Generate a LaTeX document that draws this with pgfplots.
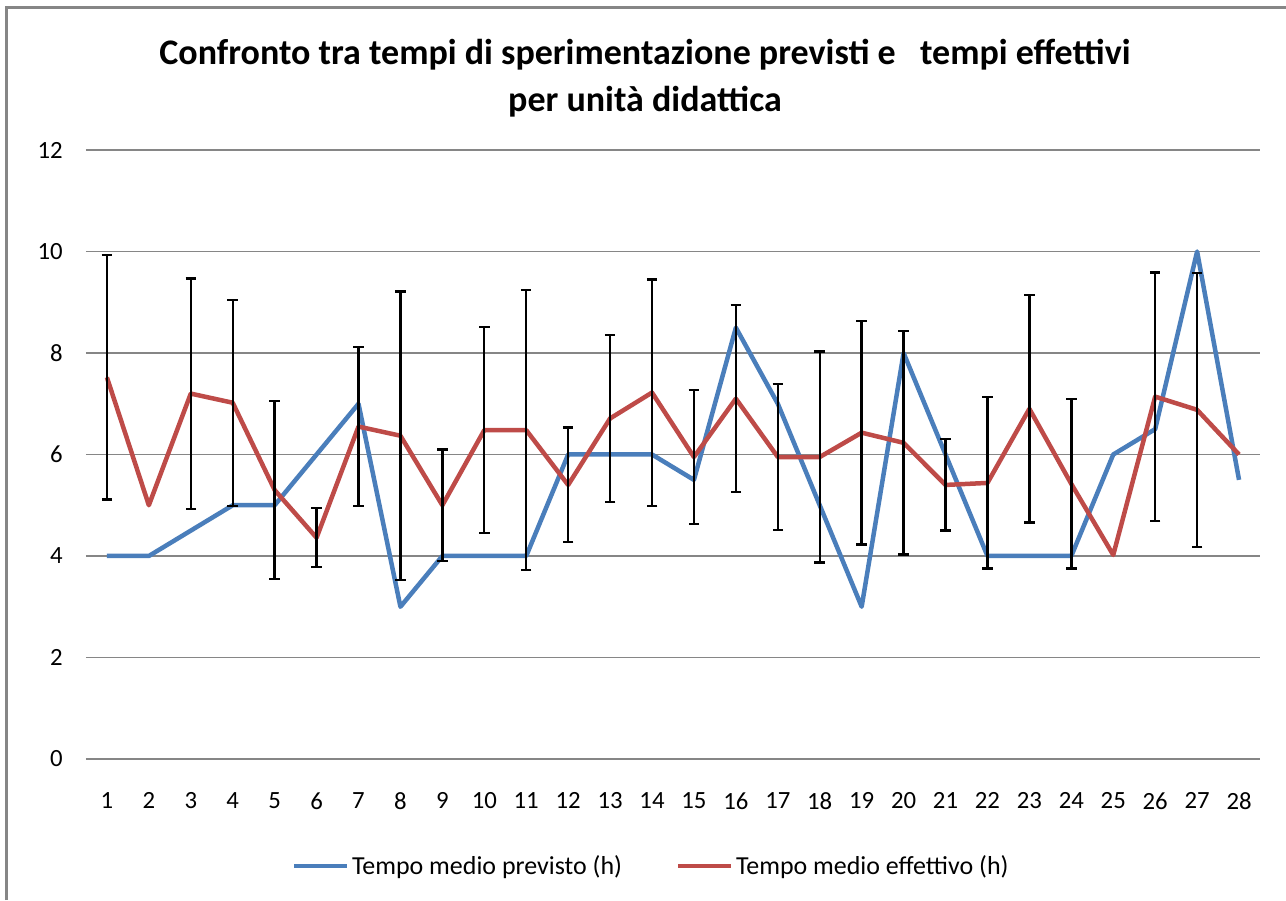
\documentclass[border=0pt]{standalone}
\usepackage{pgfplots}
\pgfplotsset{compat=1.18}
\usepackage{pgfplotstable}
\usepackage{fontspec}
\setmainfont{Carlito}
\definecolor{serblue}{HTML}{4A7EBB}
\definecolor{serred}{HTML}{BE4B48}
\definecolor{gridgray}{HTML}{868686}

\pgfplotstableread{
x y
1 4
2 4
3 4.5
4 5
5 5
6 6
7 7
8 3
9 4
10 4
11 4
12 6
13 6
14 6
15 5.5
16 8.5
17 7
18 5
19 3
20 8
21 6
22 4
23 4
24 4
25 6
26 6.5
27 10
28 5.5
}\previsto

\pgfplotstableread{
x y
1 7.52
2 5.0
3 7.2
4 7.02
5 5.3
6 4.36
7 6.55
8 6.37
9 5.0
10 6.48
11 6.48
12 5.4
13 6.71
14 7.22
15 5.95
16 7.1
17 5.95
18 5.95
19 6.43
20 6.23
21 5.4
22 5.44
23 6.9
24 5.42
25 4.02
26 7.14
27 6.88
28 6.0
}\effettivo

\pgfplotstableread{
x y e
1 7.52 2.41
3 7.2 2.27
4 7.02 2.03
5 5.3 1.75
6 4.36 0.58
7 6.55 1.57
8 6.37 2.84
9 5.0 1.1
10 6.48 2.03
11 6.48 2.76
12 5.4 1.13
13 6.71 1.65
14 7.22 2.23
15 5.95 1.32
16 7.1 1.84
17 5.95 1.44
18 5.95 2.08
19 6.43 2.2
20 6.23 2.2
21 5.4 0.9
22 5.44 1.69
23 6.9 2.24
24 5.42 1.67
26 7.14 2.45
27 6.88 2.7
}\errori

\begin{document}
\begin{tikzpicture}
\useasboundingbox (0,0) rectangle (857.33pt,600pt);
\draw[gridgray, line width=2pt] (4pt,0pt) -- (4pt,594.7pt) -- (857.33pt,594.7pt);
\node[anchor=base, font=\bfseries\fontsize{24}{28}\selectfont] at (430pt,557pt)
  {Confronto tra tempi di sperimentazione previsti e\hspace{0.45em} tempi effettivi};
\node[anchor=base, font=\bfseries\fontsize{24}{28}\selectfont] at (430pt,525.5pt)
  {per unità didattica};
\begin{axis}[
  at={(57.3pt,94pt)}, anchor=south west,
  scale only axis, width=782.7pt, height=406pt,
  xmin=0.5, xmax=28.5, ymin=0, ymax=12,
  xtick={1,...,28}, ytick={0,2,...,12},
  axis lines=left, axis line style={draw=none},
  major tick length=0pt,
  ymajorgrids, grid style={line width=1.1pt, color=gridgray},
  tick label style={font=\fontsize{16.5}{18}\selectfont},
  /pgf/number format/assume math mode=true,
  yticklabel style={xshift=-12pt},
  xticklabel style={yshift=-19pt},
  legend columns=2,
  legend style={at={(0.482,-0.1756)}, anchor=center, draw=none,
    font=\fontsize{17.3}{19}\selectfont,
    /tikz/every even column/.append style={column sep=34pt}},
  legend image code/.code={\draw[#1] (0pt,0pt) -- (35pt,0pt);},
  clip=false,
]
\addplot[serblue, line width=3pt, line join=round, mark=none] table[x=x,y=y] {\previsto};
\addlegendentry{Tempo medio previsto (h)}
\addplot[serred, line width=3pt, line join=round, mark=none] table[x=x,y=y] {\effettivo};
\addlegendentry{Tempo medio effettivo (h)}
\addplot[draw=none, mark=none, forget plot,
  error bars/.cd, y dir=both, y explicit,
  error bar style={black, line width=1.6pt},
  error mark options={black, rotate=90, mark size=3.5pt, line width=1.6pt}]
  table[x=x, y=y, y error=e] {\errori};
\end{axis}
\end{tikzpicture}
\end{document}
